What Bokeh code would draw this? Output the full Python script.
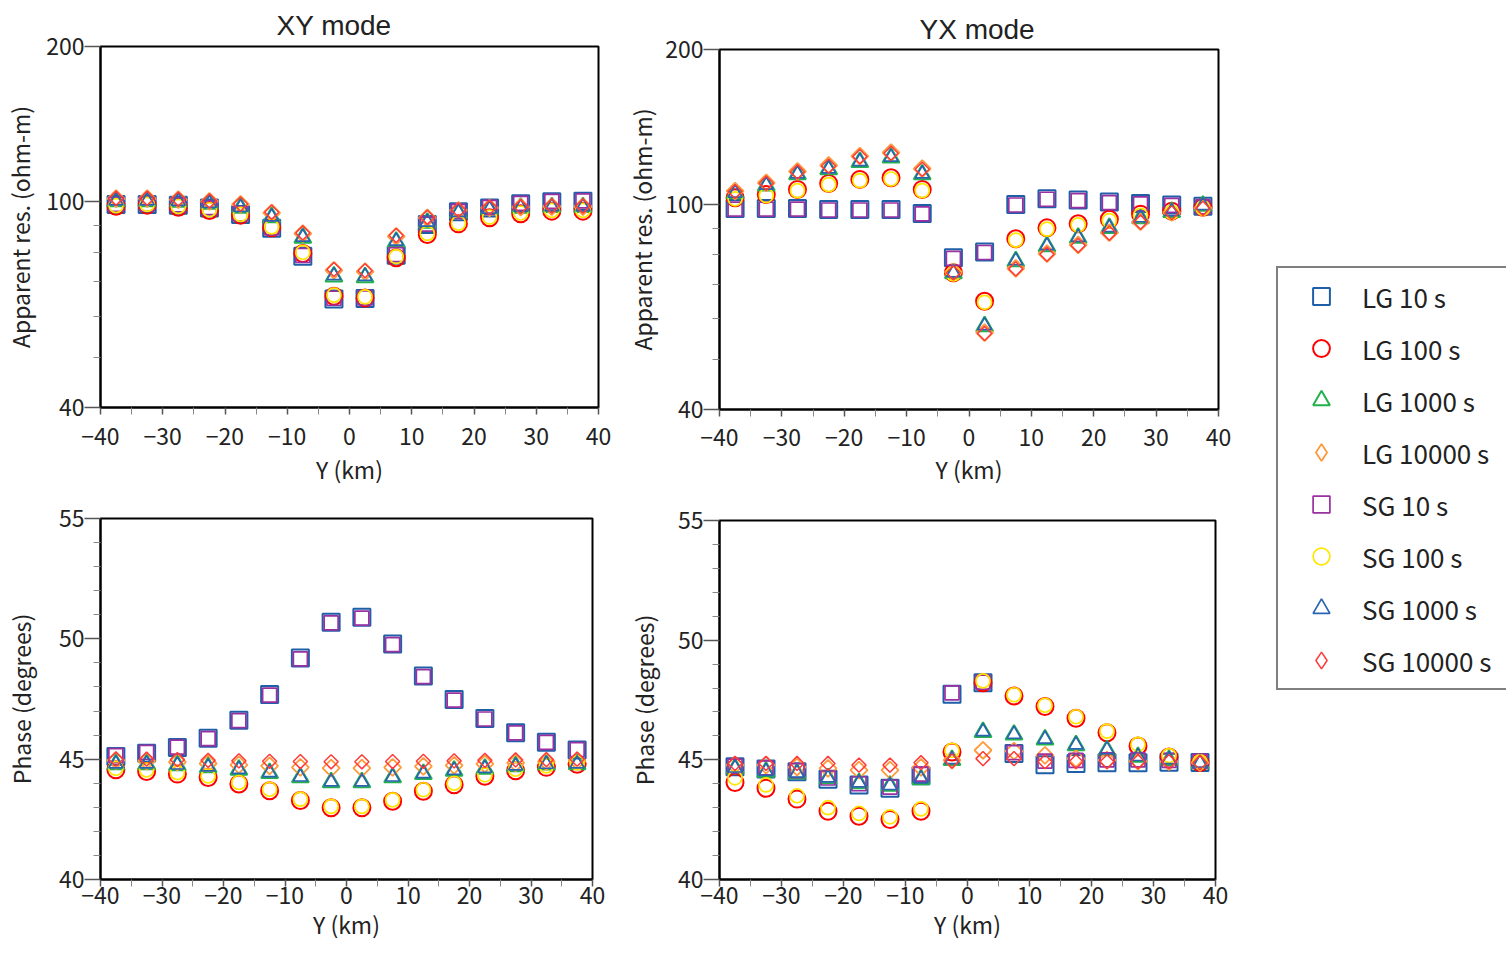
import numpy as np
from bokeh.plotting import figure
from bokeh.models import FixedTicker, Range1d, Legend, LegendItem, CustomJSTickFormatter
from bokeh.layouts import row, column
from bokeh.embed import file_html
from bokeh.resources import INLINE

FONT = "Noto Sans CJK JP"
TITLE_FONT = "Liberation Sans"

# ---------------- data ----------------
y_km = [-37.5, -32.5, -27.5, -22.5, -17.5, -12.5, -7.5, -2.5,
        2.5, 7.5, 12.5, 17.5, 22.5, 27.5, 32.5, 37.5]

series_names = ["LG 10 s", "LG 100 s", "LG 1000 s", "LG 10000 s",
                "SG 10 s", "SG 100 s", "SG 1000 s", "SG 10000 s"]

# XY mode apparent resistivity (ohm-m)
xy_rho_lg10 = [98.9, 98.9, 98.6, 97.4, 94.6, 88.9, 78.5, 64.9, 65.0, 78.9, 90.4, 95.7, 97.4, 99.2, 100.1, 100.3]
xy_rho_lg100 = [98.1, 98.6, 97.7, 96.3, 94.3, 89.1, 79.5, 65.7, 65.2, 78.0, 86.5, 90.7, 93.2, 94.9, 96.0, 96.0]
xy_rho_lg1000 = [100.3, 100.3, 100.1, 99.2, 97.4, 93.4, 85.2, 71.7, 71.5, 83.7, 91.1, 95.3, 96.7, 97.4, 97.7, 97.7]
xy_rho_lg10000 = [101.5, 101.5, 101.1, 100.3, 98.9, 95.3, 86.8, 73.7, 73.3, 85.8, 93.2, 96.3, 97.4, 97.7, 98.0, 98.0]
xy_rho_sg10 = [99.0, 99.0, 98.7, 97.5, 94.8, 89.1, 78.8, 65.1, 65.2, 79.1, 90.6, 95.9, 97.6, 99.4, 100.3, 100.5]
xy_rho_sg100 = [98.4, 98.9, 98.0, 96.6, 94.6, 89.5, 79.9, 66.0, 65.5, 78.4, 86.9, 91.0, 93.5, 95.2, 96.3, 96.3]
xy_rho_sg1000 = [100.5, 100.5, 100.3, 99.4, 97.6, 93.6, 85.5, 72.0, 71.8, 84.0, 91.4, 95.5, 96.9, 97.6, 97.9, 97.9]
xy_rho_sg10000 = [101.7, 101.7, 101.3, 100.5, 99.1, 95.5, 87.1, 74.0, 73.6, 86.1, 93.4, 96.5, 97.6, 97.9, 98.2, 98.2]

# YX mode apparent resistivity (ohm-m)
yx_rho_lg10 = [98.2, 98.2, 98.2, 97.8, 97.8, 97.8, 96.1, 78.8, 80.9, 100.0, 102.6, 102.0, 101.1, 100.5, 99.8, 99.2]
yx_rho_lg100 = [103.1, 104.6, 107.0, 109.9, 111.9, 112.7, 107.0, 73.7, 64.9, 85.8, 90.1, 91.8, 93.6, 95.8, 97.1, 98.8]
yx_rho_lg1000 = [105.1, 108.9, 114.4, 117.0, 120.9, 123.3, 114.4, 73.5, 58.0, 77.6, 83.0, 86.2, 90.0, 94.0, 96.7, 99.4]
yx_rho_lg10000 = [106.2, 110.2, 116.0, 119.1, 124.2, 126.1, 117.4, 73.9, 56.4, 75.2, 80.3, 83.5, 88.2, 92.6, 96.6, 98.5]
yx_rho_sg10 = [98.0, 98.0, 98.0, 97.6, 97.6, 97.6, 95.9, 78.6, 80.7, 99.8, 102.4, 101.8, 100.9, 100.3, 99.6, 99.0]
yx_rho_sg100 = [102.6, 104.1, 106.4, 109.3, 111.3, 112.1, 106.4, 73.3, 64.6, 85.3, 89.6, 91.3, 93.1, 95.3, 96.6, 98.4]
yx_rho_sg1000 = [105.3, 109.1, 114.7, 117.3, 121.2, 123.6, 114.7, 73.7, 58.2, 77.8, 83.2, 86.4, 90.2, 94.2, 96.9, 99.6]
yx_rho_sg10000 = [106.0, 110.0, 115.7, 118.8, 123.9, 125.8, 117.1, 73.7, 56.2, 75.0, 80.1, 83.3, 88.0, 92.4, 96.4, 98.3]

# XY mode phase (degrees)
xy_ph_lg10 = [45.11, 45.25, 45.48, 45.87, 46.62, 47.69, 49.20, 50.69, 50.90, 49.79, 48.46, 47.48, 46.69, 46.10, 45.70, 45.38]
xy_ph_lg100 = [44.56, 44.49, 44.38, 44.24, 43.97, 43.69, 43.28, 42.98, 42.98, 43.25, 43.67, 43.94, 44.29, 44.52, 44.66, 44.79]
xy_ph_lg1000 = [44.79, 44.79, 44.74, 44.66, 44.56, 44.42, 44.24, 44.04, 44.04, 44.24, 44.38, 44.52, 44.60, 44.70, 44.77, 44.79]
xy_ph_lg10000 = [44.95, 44.92, 44.88, 44.82, 44.76, 44.72, 44.66, 44.63, 44.63, 44.66, 44.70, 44.74, 44.80, 44.85, 44.90, 44.93]
xy_ph_sg10 = [45.15, 45.28, 45.50, 45.85, 46.60, 47.66, 49.17, 50.66, 50.86, 49.76, 48.43, 47.45, 46.67, 46.09, 45.70, 45.40]
xy_ph_sg100 = [44.62, 44.55, 44.44, 44.30, 44.03, 43.75, 43.34, 43.04, 43.04, 43.31, 43.73, 44.00, 44.35, 44.58, 44.72, 44.85]
xy_ph_sg1000 = [44.81, 44.81, 44.76, 44.68, 44.58, 44.44, 44.26, 44.06, 44.06, 44.26, 44.40, 44.54, 44.62, 44.72, 44.79, 44.81]
xy_ph_sg10000 = [45.00, 45.00, 44.98, 44.95, 44.93, 44.91, 44.90, 44.89, 44.89, 44.90, 44.91, 44.93, 44.95, 44.97, 44.98, 45.00]

# YX mode phase (degrees)
yx_ph_lg10 = [44.71, 44.62, 44.50, 44.19, 43.95, 43.81, 44.33, 47.74, 48.22, 45.26, 44.79, 44.85, 44.88, 44.88, 44.90, 44.89]
yx_ph_lg100 = [44.05, 43.81, 43.36, 42.85, 42.64, 42.51, 42.85, 45.33, 48.22, 47.67, 47.23, 46.74, 46.13, 45.58, 45.12, 44.89]
yx_ph_lg1000 = [44.64, 44.50, 44.43, 44.23, 44.02, 43.91, 44.19, 44.99, 46.16, 46.05, 45.85, 45.61, 45.40, 45.12, 44.99, 44.85]
yx_ph_lg10000 = [44.78, 44.78, 44.70, 44.64, 44.57, 44.57, 44.68, 44.99, 45.40, 45.36, 45.19, 45.05, 44.99, 44.95, 44.92, 44.88]
yx_ph_sg10 = [44.74, 44.66, 44.55, 44.24, 44.00, 43.86, 44.40, 47.80, 48.25, 45.30, 44.95, 44.98, 45.00, 45.00, 44.98, 44.95]
yx_ph_sg100 = [44.25, 43.95, 43.50, 43.00, 42.76, 42.62, 42.95, 45.40, 48.30, 47.72, 47.28, 46.80, 46.20, 45.65, 45.18, 44.92]
yx_ph_sg1000 = [44.66, 44.52, 44.45, 44.25, 44.04, 43.93, 44.21, 45.01, 46.18, 46.07, 45.87, 45.63, 45.42, 45.14, 45.01, 44.87]
yx_ph_sg10000 = [44.85, 44.85, 44.85, 44.85, 44.78, 44.78, 44.88, 44.95, 45.05, 45.05, 44.92, 44.92, 44.92, 44.92, 44.92, 44.88]

# ticks
x_ticks = [-40, -30, -20, -10, 0, 10, 20, 30, 40]
x_minor = [-35, -25, -15, -5, 5, 15, 25, 35]
rho_ticks = [40, 100, 200]
rho_minor = [50, 60, 70, 80, 90]
phase_ticks = [40, 45, 50, 55]
phase_minor = [41, 42, 43, 44, 46, 47, 48, 49, 51, 52, 53, 54]

# ---------------- styles ----------------
D = np.pi / 4
STYLES = [  # marker, legend marker, color, size, line width, angle
    ("square", "square", "#1f5fa8", 17, 2.0, 0.0),
    ("circle", "circle", "#ff0000", 17, 2.0, 0.0),
    ("triangle", "triangle", "#22b14c", 17, 2.0, 0.0),
    ("square", "diamond", "#ff9a3c", 12, 1.8, D),
    ("square", "square", "#9b30a0", 14, 1.7, 0.0),
    ("circle", "circle", "#ffe600", 14, 1.7, 0.0),
    ("triangle", "triangle", "#2a64b0", 14, 1.7, 0.0),
    ("square", "diamond", "#ff3a3a", 10, 1.5, D),
]

fmt_code = "return (tick < 0 ? '\u2212' : '') + Math.abs(tick).toString();"
TXT = "23px"


def make_panel(fw, fh, bl, br, bt, bb, series, log, yticks, yminor, yrange,
               ylabel, ylab_standoff, xlab_standoffs, title=None, title_offset=0,
               title_standoff=7):
    p = figure(frame_width=fw, frame_height=fh, output_backend="svg",
               toolbar_location=None,
               x_range=Range1d(-40, 40), y_range=Range1d(*yrange),
               y_axis_type="log" if log else "linear",
               min_border_left=bl, min_border_right=br, min_border_top=bt,
               min_border_bottom=bb, background_fill_color="white",
               border_fill_color="white")
    p.outline_line_color = "black"
    p.outline_line_width = 2
    p.grid.visible = False
    for ax in (p.xaxis[0], p.yaxis[0]):
        ax.axis_line_color = "black"
        ax.axis_line_width = 2
        ax.major_tick_in = 0
        ax.minor_tick_in = 0
        ax.major_tick_line_color = "#555555"
        ax.minor_tick_line_color = "#888888"
        ax.major_tick_line_width = 1.5
        ax.minor_tick_line_width = 1
        ax.major_label_text_font = FONT
        ax.major_label_text_font_size = TXT
        ax.major_label_text_color = "#222222"
        ax.axis_label_text_font = FONT
        ax.axis_label_text_font_size = TXT
        ax.axis_label_text_font_style = "normal"
        ax.axis_label_text_color = "#222222"
        ax.formatter = CustomJSTickFormatter(code=fmt_code)
    xa = p.xaxis[0]
    xa.ticker = FixedTicker(ticks=x_ticks, minor_ticks=x_minor)
    xa.major_tick_out = 7
    xa.minor_tick_out = 7
    xa.axis_label = "Y (km)"
    xa.major_label_standoff = xlab_standoffs[0]
    xa.axis_label_standoff = xlab_standoffs[1]
    ya = p.yaxis[0]
    ya.ticker = FixedTicker(ticks=yticks, minor_ticks=yminor)
    ya.major_tick_out = 16
    ya.minor_tick_out = 7
    ya.major_label_standoff = 0
    ya.axis_label = ylabel
    ya.axis_label_standoff = ylab_standoff
    if title:
        p.title.text = title
        p.title.align = "left"
        p.title.offset = title_offset
        p.title.text_font = TITLE_FONT
        p.title.text_font_size = "28px"
        p.title.text_font_style = "normal"
        p.title.text_color = "#222222"
        p.title.standoff = title_standoff
    for vals, (mk, _, col, sz, lw, ang) in zip(series, STYLES):
        p.scatter(x=y_km, y=vals, marker=mk, size=sz, angle=ang,
                  line_color=col, line_width=lw, fill_color=None)
    return p


xy_rho = [xy_rho_lg10, xy_rho_lg100, xy_rho_lg1000, xy_rho_lg10000,
          xy_rho_sg10, xy_rho_sg100, xy_rho_sg1000, xy_rho_sg10000]
yx_rho = [yx_rho_lg10, yx_rho_lg100, yx_rho_lg1000, yx_rho_lg10000,
          yx_rho_sg10, yx_rho_sg100, yx_rho_sg1000, yx_rho_sg10000]
xy_ph = [xy_ph_lg10, xy_ph_lg100, xy_ph_lg1000, xy_ph_lg10000,
         xy_ph_sg10, xy_ph_sg100, xy_ph_sg1000, xy_ph_sg10000]
yx_ph = [yx_ph_lg10, yx_ph_lg100, yx_ph_lg1000, yx_ph_lg10000,
         yx_ph_sg10, yx_ph_sg100, yx_ph_sg1000, yx_ph_sg10000]

tl = make_panel(498, 361, 96, 24, 46, 82, xy_rho, True, rho_ticks, rho_minor,
                (40, 200), "Apparent res. (ohm-m)", 6, (13, 4), "XY mode", 176, 11)
tr = make_panel(499, 360, 94, 40, 49, 80, yx_rho, True, rho_ticks, rho_minor,
                (40, 200), "Apparent res. (ohm-m)", 3, (12, 3), "YX mode", 200, 9)
bl = make_panel(492, 361, 96, 30, 29, 65, xy_ph, False, phase_ticks, phase_minor,
                (40, 55), "Phase (degrees)", 18, (0, 0))
br = make_panel(496, 359, 94, 43, 31, 65, yx_ph, False, phase_ticks, phase_minor,
                (40, 55), "Phase (degrees)", 14, (0, 0))

# legend panel
LEG_W, LEG_H = 248, 944
lf = figure(width=LEG_W, height=LEG_H, output_backend="svg", toolbar_location=None,
            x_range=Range1d(1000, 1001), y_range=Range1d(1000, 1001),
            x_axis_type=None, y_axis_type=None, min_border=0,
            outline_line_color=None, background_fill_color="white",
            border_fill_color="white")
lf.grid.visible = False
items = []
for name, vals, (_, lmk, col, sz, lw, ang) in zip(series_names, xy_rho, STYLES):
    r = lf.scatter(x=y_km, y=vals, marker=lmk, size=sz,
                   line_color=col, line_width=lw, fill_color=None)
    items.append(LegendItem(label=name, renderers=[r]))
legend = Legend(items=items, location=(18, 254),
                glyph_width=72, glyph_height=42, spacing=10, padding=7,
                label_standoff=5, label_height=20, label_width=150,
                label_text_font=FONT, label_text_font_size="26px",
                label_text_color="#222222",
                border_line_color="black", border_line_width=2,
                background_fill_color="white", background_fill_alpha=1.0)
lf.add_layout(legend, "center")

layout = row(column(tl, bl), column(tr, br), lf)

open("out.html", "w").write(file_html(layout, INLINE))
